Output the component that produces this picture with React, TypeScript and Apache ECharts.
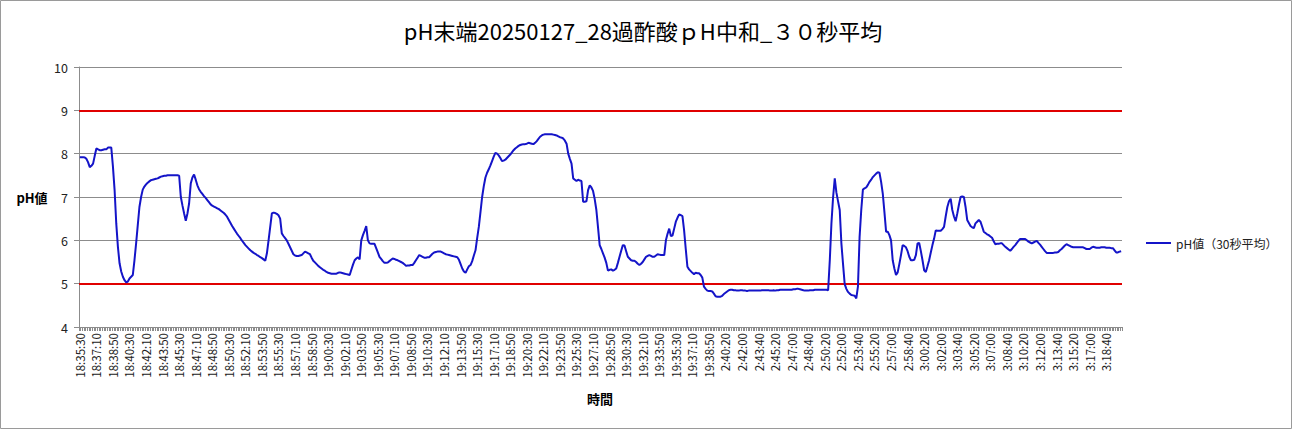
import React, { useEffect, useRef } from "react";
import * as echarts from "echarts";

const TITLE = "pH末端20250127_28過酢酸ｐH中和_３０秒平均";
const SERIES_NAME = "pH値（30秒平均）";
const Y_NAME = "pH値";
const X_NAME = "時間";
const SEGMENT_STARTS = ["18:35:30", "2:39:30"];
const SEGMENT_COUNTS = [385, 245];
const STEP_SECONDS = 10;
const LIMIT_LINES = [9, 5];
const Y_MIN = 4;
const Y_MAX = 10;
const Y_INTERVAL = 1;

const PH_VALUES = [
  7.92, 7.92, 7.92, 7.91, 7.88, 7.80, 7.69, 7.72, 7.77, 7.95,
  8.12, 8.10, 8.08, 8.08, 8.09, 8.10, 8.10, 8.14, 8.14, 8.14,
  7.70, 7.16, 6.39, 5.85, 5.47, 5.28, 5.16, 5.08, 5.03, 5.05,
  5.12, 5.16, 5.20, 5.54, 5.93, 6.35, 6.77, 7.00, 7.17, 7.24,
  7.29, 7.33, 7.36, 7.39, 7.40, 7.41, 7.42, 7.43, 7.45, 7.47,
  7.48, 7.49, 7.49, 7.50, 7.50, 7.50, 7.50, 7.50, 7.50, 7.50,
  7.49, 7.00, 6.80, 6.62, 6.45, 6.62, 6.85, 7.31, 7.45, 7.52,
  7.40, 7.27, 7.18, 7.12, 7.07, 7.02, 6.98, 6.93, 6.88, 6.83,
  6.80, 6.78, 6.76, 6.74, 6.72, 6.69, 6.66, 6.63, 6.59, 6.54,
  6.47, 6.40, 6.33, 6.27, 6.21, 6.15, 6.10, 6.05, 5.99, 5.94,
  5.89, 5.85, 5.81, 5.77, 5.74, 5.71, 5.69, 5.66, 5.64, 5.61,
  5.59, 5.56, 5.53, 5.70, 6.00, 6.31, 6.62, 6.64, 6.63, 6.61,
  6.58, 6.50, 6.16, 6.10, 6.05, 6.00, 5.92, 5.84, 5.76, 5.68,
  5.65, 5.64, 5.64, 5.65, 5.66, 5.70, 5.74, 5.72, 5.70, 5.68,
  5.60, 5.53, 5.49, 5.45, 5.41, 5.38, 5.35, 5.32, 5.30, 5.27,
  5.25, 5.24, 5.23, 5.23, 5.23, 5.23, 5.25, 5.26, 5.25, 5.24,
  5.23, 5.22, 5.21, 5.20, 5.32, 5.44, 5.54, 5.58, 5.61, 5.56,
  6.00, 6.12, 6.22, 6.33, 6.00, 5.93, 5.92, 5.92, 5.92, 5.82,
  5.72, 5.62, 5.57, 5.52, 5.48, 5.48, 5.49, 5.52, 5.55, 5.58,
  5.57, 5.55, 5.54, 5.52, 5.50, 5.48, 5.45, 5.41, 5.42, 5.42,
  5.43, 5.43, 5.48, 5.54, 5.60, 5.66, 5.64, 5.62, 5.60, 5.60,
  5.61, 5.61, 5.65, 5.69, 5.72, 5.73, 5.74, 5.74, 5.74, 5.72,
  5.70, 5.68, 5.67, 5.66, 5.65, 5.64, 5.63, 5.62, 5.61, 5.55,
  5.45, 5.35, 5.28, 5.25, 5.33, 5.40, 5.43, 5.52, 5.65, 5.77,
  6.05, 6.31, 6.65, 7.00, 7.25, 7.45, 7.56, 7.64, 7.73, 7.83,
  7.93, 8.02, 8.00, 7.96, 7.90, 7.83, 7.84, 7.86, 7.90, 7.94,
  7.98, 8.03, 8.08, 8.12, 8.15, 8.18, 8.20, 8.21, 8.22, 8.22,
  8.23, 8.25, 8.24, 8.23, 8.22, 8.25, 8.29, 8.34, 8.39, 8.42,
  8.44, 8.45, 8.45, 8.45, 8.45, 8.45, 8.44, 8.43, 8.42, 8.40,
  8.38, 8.37, 8.35, 8.30, 8.23, 8.00, 7.88, 7.77, 7.43, 7.40,
  7.37, 7.40, 7.38, 7.37, 6.89, 6.89, 6.90, 7.16, 7.27, 7.22,
  7.14, 6.95, 6.70, 6.30, 5.89, 5.80, 5.70, 5.60, 5.48, 5.30,
  5.32, 5.33, 5.30, 5.32, 5.35, 5.48, 5.62, 5.76, 5.89, 5.88,
  5.75, 5.62, 5.58, 5.54, 5.53, 5.53, 5.50, 5.46, 5.43, 5.46,
  5.50, 5.56, 5.62, 5.64, 5.66, 5.64, 5.62, 5.62, 5.65, 5.68,
  5.67, 5.66, 5.66, 5.66, 6.00, 6.15, 6.27, 6.10, 6.11, 6.27,
  6.43, 6.52, 6.60, 6.58, 6.56, 6.23, 5.80, 5.39, 5.33, 5.29,
  5.25, 5.22, 5.25, 5.24, 5.24, 5.20, 5.14, 4.93, 4.88, 4.84,
  4.83, 4.83, 4.82, 4.77, 4.71, 4.70, 4.70, 4.70, 4.72, 4.76,
  4.79, 4.82, 4.85, 4.86, 4.86, 4.85, 4.85, 4.84, 4.84, 4.85,
  4.85, 4.84, 4.84, 4.83, 4.84, 4.84, 4.84, 4.84, 4.84, 4.84,
  4.84, 4.84, 4.85, 4.85, 4.85, 4.85, 4.85, 4.84, 4.84, 4.85,
  4.84, 4.85, 4.85, 4.86, 4.86, 4.86, 4.86, 4.86, 4.86, 4.86,
  4.86, 4.87, 4.87, 4.88, 4.88, 4.87, 4.86, 4.85, 4.84, 4.84,
  4.84, 4.85, 4.85, 4.85, 4.86, 4.86, 4.86, 4.86, 4.86, 4.86,
  4.86, 4.86, 4.85, 5.54, 6.40, 7.00, 7.43, 7.10, 6.90, 6.70,
  5.93, 5.45, 4.99, 4.88, 4.81, 4.77, 4.74, 4.73, 4.72, 4.66,
  4.93, 6.08, 6.70, 7.17, 7.20, 7.22, 7.28, 7.35, 7.40, 7.46,
  7.50, 7.54, 7.57, 7.56, 7.35, 7.08, 6.65, 6.20, 6.20, 6.12,
  6.00, 5.54, 5.35, 5.20, 5.26, 5.45, 5.66, 5.89, 5.87, 5.84,
  5.75, 5.62, 5.54, 5.54, 5.55, 5.66, 5.93, 5.94, 5.75, 5.54,
  5.31, 5.27, 5.40, 5.54, 5.72, 5.89, 6.04, 6.23, 6.22, 6.22,
  6.22, 6.26, 6.31, 6.55, 6.77, 6.90, 6.96, 6.70, 6.55, 6.44,
  6.62, 6.82, 7.00, 7.01, 7.00, 6.77, 6.47, 6.40, 6.33, 6.30,
  6.28, 6.39, 6.43, 6.47, 6.43, 6.32, 6.20, 6.17, 6.14, 6.12,
  6.09, 6.06, 5.98, 5.91, 5.92, 5.92, 5.93, 5.93, 5.89, 5.85,
  5.82, 5.79, 5.76, 5.80, 5.85, 5.89, 5.94, 5.99, 6.03, 6.03,
  6.03, 6.03, 6.00, 5.97, 5.95, 5.93, 5.95, 5.97, 5.99, 5.94,
  5.90, 5.85, 5.80, 5.75, 5.71, 5.71, 5.71, 5.71, 5.71, 5.72,
  5.72, 5.73, 5.77, 5.80, 5.84, 5.88, 5.91, 5.89, 5.87, 5.85,
  5.84, 5.84, 5.84, 5.84, 5.84, 5.84, 5.84, 5.82, 5.80, 5.80,
  5.80, 5.83, 5.85, 5.84, 5.83, 5.83, 5.83, 5.84, 5.84, 5.84,
  5.83, 5.83, 5.83, 5.82, 5.82, 5.77, 5.72, 5.72, 5.74, 5.75,
];

function buildCategories(): string[] {
  const out: string[] = [];
  SEGMENT_STARTS.forEach((start, s) => {
    const [h, m, sec] = start.split(":").map(Number);
    let t = h * 3600 + m * 60 + sec;
    for (let k = 0; k < SEGMENT_COUNTS[s]; k++) {
      const hh = Math.floor(t / 3600) % 24;
      const mm = Math.floor((t % 3600) / 60);
      const ss = t % 60;
      out.push(`${hh}:${String(mm).padStart(2, "0")}:${String(ss).padStart(2, "0")}`);
      t += STEP_SECONDS;
    }
  });
  return out;
}

const FONT = "'Noto Sans CJK JP', 'Noto Sans', sans-serif";
const AXIS_GRAY = "#8c8c8c";

export default function App() {
  const ref = useRef<HTMLDivElement>(null);
  useEffect(() => {
    if (!ref.current) return;
    const chart = echarts.init(ref.current, null, { renderer: "svg" });
    const categories = buildCategories();
    chart.setOption({
      animation: false,
      backgroundColor: "#ffffff",
      textStyle: { fontFamily: FONT },
      title: {
        text: TITLE,
        left: 638,
        top: 14,
        textAlign: "center",
        textStyle: { fontFamily: FONT, fontSize: 22, fontWeight: "normal", color: "#000" },
      },
      legend: {
        left: 1141,
        top: 232,
        icon: "rect",
        itemWidth: 25,
        itemHeight: 2,
        textStyle: { fontFamily: FONT, fontSize: 12, color: "#222" },
        data: [SERIES_NAME],
      },
      grid: { left: 79, right: 170, top: 67, bottom: 102, containLabel: false },
      xAxis: {
        type: "category",
        data: categories,
        boundaryGap: true,
        axisLine: { show: true, lineStyle: { color: AXIS_GRAY, width: 1 } },
        axisTick: { show: true, interval: 0, length: 4, lineStyle: { color: AXIS_GRAY } },
        axisLabel: { interval: 9, rotate: 90, fontSize: 11.5, color: "#222", margin: 6, fontFamily: FONT },
        splitLine: { show: false },
      },
      yAxis: {
        type: "value",
        min: Y_MIN,
        max: Y_MAX,
        interval: Y_INTERVAL,
        axisLine: { show: true, lineStyle: { color: AXIS_GRAY, width: 1 } },
        axisTick: { show: true, length: 5, lineStyle: { color: AXIS_GRAY } },
        axisLabel: { fontSize: 12.5, color: "#222", margin: 11, fontFamily: FONT },
        splitLine: { show: true, lineStyle: { color: AXIS_GRAY, width: 1 } },
      },
      graphic: [
        {
          type: "rect",
          shape: { x: 0.5, y: 0.5, width: 1291, height: 428 },
          style: { fill: "none", stroke: "#9a9a9a", lineWidth: 1 },
          silent: true,
        },
        {
          type: "text",
          x: 32,
          y: 197,
          style: { text: Y_NAME, fontFamily: FONT, fontSize: 13, fontWeight: "bold", fill: "#000", align: "center", verticalAlign: "middle" },
        },
        {
          type: "text",
          x: 600,
          y: 398,
          style: { text: X_NAME, fontFamily: FONT, fontSize: 13, fontWeight: "bold", fill: "#000", align: "center", verticalAlign: "middle" },
        },
      ],
      series: [
        {
          name: SERIES_NAME,
          type: "line",
          data: PH_VALUES,
          symbol: "none",
          showSymbol: false,
          lineStyle: { color: "#1414c8", width: 2 },
          itemStyle: { color: "#1414c8" },
          z: 3,
          markLine: {
            silent: true,
            symbol: "none",
            label: { show: false },
            lineStyle: { color: "#e00000", width: 2, type: "solid" },
            data: LIMIT_LINES.map((v) => ({ yAxis: v })),
            z: 2,
          },
        },
      ],
    });
    return () => chart.dispose();
  }, []);
  return <div ref={ref} style={{ position: "absolute", left: 0, top: 0, width: 1292, height: 429 }} />;
}
